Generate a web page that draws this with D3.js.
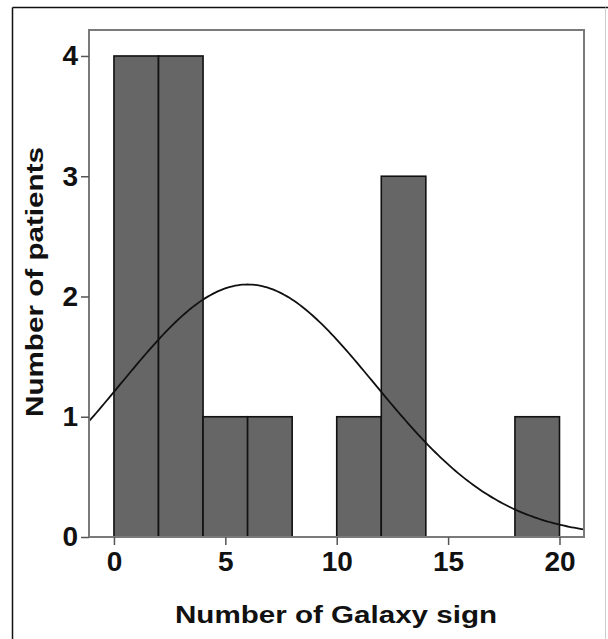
<!DOCTYPE html>
<html>
<head>
<meta charset="utf-8">
<script src="https://cdn.jsdelivr.net/npm/d3@7"></script>
<style>
  html, body { margin: 0; padding: 0; background: #fff; }
  svg { display: block; }
</style>
</head>
<body>
<svg id="chart" width="608" height="639"></svg>
<script>
// ---- data ----
const binStarts = [0, 2, 4, 6, 8, 10, 12, 14, 16, 18];
const binWidth = 2;
const patientCounts = [4, 4, 1, 1, 0, 1, 3, 0, 0, 1];
const xTicks = [0, 5, 10, 15, 20];
const yTicks = [0, 1, 2, 3, 4];
const normalMean = 6.0;
const normalSD = 5.7;
const xLabel = "Number of Galaxy sign";
const yLabel = "Number of patients";

// ---- layout ----
const svg = d3.select("#chart");
const frame = { left: 89, right: 584, top: 30, bottom: 537 };

const x = d3.scaleLinear().domain([-1.12, 21.1]).range([frame.left, frame.right]);
const y = d3.scaleLinear().domain([0, 4.216]).range([frame.bottom, frame.top]);

// outer border
svg.append("line").attr("x1", 12.5).attr("x2", 12.5).attr("y1", 7.5).attr("y2", 639)
  .attr("stroke", "#111").attr("stroke-width", 1.5);
svg.append("line").attr("x1", 12.5).attr("x2", 608).attr("y1", 7.5).attr("y2", 7.5)
  .attr("stroke", "#111").attr("stroke-width", 1.5);
svg.append("line").attr("x1", 605.5).attr("x2", 605.5).attr("y1", 7.5).attr("y2", 639)
  .attr("stroke", "#ccc").attr("stroke-width", 1);

// bars
const total = d3.sum(patientCounts);
const bins = binStarts.map((s, i) => ({ x0: s, x1: s + binWidth, n: patientCounts[i] }));
svg.append("g").selectAll("rect")
  .data(bins.filter(d => d.n > 0))
  .join("rect")
  .attr("x", d => x(d.x0))
  .attr("width", d => x(d.x1) - x(d.x0))
  .attr("y", d => y(d.n))
  .attr("height", d => y(0) - y(d.n))
  .attr("fill", "#666666")
  .attr("stroke", "#111")
  .attr("stroke-width", 1.6);

// normal curve
const dom = x.domain();
const samples = d3.range(0, 201).map(i => dom[0] + (dom[1] - dom[0]) * i / 200);
const pdf = v => total * binWidth / (normalSD * Math.sqrt(2 * Math.PI)) *
  Math.exp(-0.5 * Math.pow((v - normalMean) / normalSD, 2));
svg.append("path")
  .datum(samples)
  .attr("d", d3.line().x(d => x(d)).y(d => y(pdf(d))))
  .attr("fill", "none")
  .attr("stroke", "#111")
  .attr("stroke-width", 1.8);

// frame
svg.append("rect")
  .attr("x", frame.left).attr("y", frame.top)
  .attr("width", frame.right - frame.left).attr("height", frame.bottom - frame.top)
  .attr("fill", "none").attr("stroke", "#7a7a7a").attr("stroke-width", 2);

// axes
const yAxis = d3.axisLeft(y).tickValues(yTicks).tickFormat(d3.format("d")).tickSize(8).tickPadding(3);
const gy = svg.append("g").attr("transform", `translate(${frame.left},0)`).call(yAxis);
gy.select(".domain").remove();
gy.selectAll(".tick line").attr("stroke", "#555").attr("stroke-width", 1.5);
gy.selectAll(".tick text")
  .attr("font-family", "'Liberation Sans', Arial, sans-serif")
  .attr("font-weight", "bold").attr("font-size", 28).attr("fill", "#111");

const xAxis = d3.axisBottom(x).tickValues(xTicks).tickFormat(d3.format("d")).tickSize(8).tickPadding(6);
const gx = svg.append("g").attr("transform", `translate(0,${frame.bottom})`).call(xAxis);
gx.select(".domain").remove();
gx.selectAll(".tick line").attr("stroke", "#555").attr("stroke-width", 1.5);
gx.selectAll(".tick text")
  .attr("font-family", "'Liberation Sans', Arial, sans-serif")
  .attr("font-weight", "bold").attr("font-size", 28).attr("fill", "#111");

// axis titles
svg.append("text")
  .attr("x", 336).attr("y", 623)
  .attr("text-anchor", "middle")
  .attr("font-family", "'Liberation Sans', Arial, sans-serif")
  .attr("font-weight", "bold").attr("font-size", 23.5).attr("fill", "#111")
  .attr("textLength", 322).attr("lengthAdjust", "spacingAndGlyphs")
  .text(xLabel);

svg.append("text")
  .attr("transform", "translate(43,282) rotate(-90)")
  .attr("text-anchor", "middle")
  .attr("font-family", "'Liberation Sans', Arial, sans-serif")
  .attr("font-weight", "bold").attr("font-size", 24.5).attr("fill", "#111")
  .attr("textLength", 270).attr("lengthAdjust", "spacingAndGlyphs")
  .text(yLabel);
</script>
</body>
</html>
